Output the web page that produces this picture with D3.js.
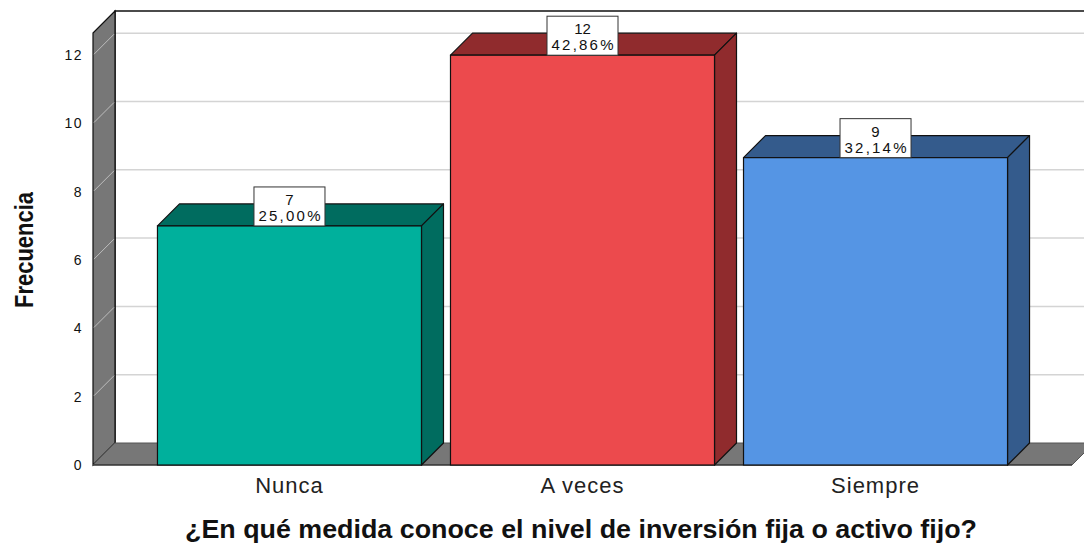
<!DOCTYPE html>
<html>
<head>
<meta charset="utf-8">
<script src="https://cdn.jsdelivr.net/npm/d3@7"></script>
<style>
  body { margin: 0; background: #fff; }
  svg { display: block; font-family: "Liberation Sans", Arial, sans-serif; }
</style>
</head>
<body>
<script>
// Data
var categories = ["Nunca", "A veces", "Siempre"];
var counts = [7, 12, 9];
var percents = ["25,00%", "42,86%", "32,14%"];
var yTicks = [0, 2, 4, 6, 8, 10, 12];
var frontColors = ["#00b09c", "#ec4a4d", "#5595e4"];
var darkColors = ["#006c5f", "#902b2d", "#345b8c"];

var W = 1084, H = 545;
var depth = 22; // 3D offset (dx = +depth, dy = -depth)
var left = 93, right = 1072, bottom = 465;

var svg = d3.select("body")
    .append("svg")
    .attr("width", W)
    .attr("height", H);

// Scales (front plane)
var y = d3.scaleLinear()
    .domain([0, 12.65])
    .range([bottom, 33]);

var x = d3.scaleBand()
    .domain(categories)
    .range([left, right])
    .paddingInner(0.099)
    .paddingOuter(0.22);

var plotTop = y(12.65);

// Back wall
svg.append("rect")
    .attr("x", left + depth)
    .attr("y", plotTop - depth)
    .attr("width", W)
    .attr("height", bottom - plotTop)
    .attr("fill", "#fff");

// Back wall gridlines
svg.selectAll(".grid")
    .data(yTicks.filter(function (d) { return d > 0; }))
    .enter().append("line")
    .attr("class", "grid")
    .attr("x1", left + depth)
    .attr("x2", W)
    .attr("y1", function (d) { return y(d) - depth; })
    .attr("y2", function (d) { return y(d) - depth; })
    .attr("stroke", "#d4d4d4")
    .attr("stroke-width", 1.5);

// Back wall frame (top + left edges)
svg.append("path")
    .attr("d", "M" + W + "," + (plotTop - depth) + "H" + (left + depth) + "V" + (bottom - depth))
    .attr("fill", "none")
    .attr("stroke", "#111")
    .attr("stroke-width", 1.5);

// Left wall
svg.append("path")
    .attr("d", "M" + left + "," + plotTop +
        "L" + (left + depth) + "," + (plotTop - depth) +
        "V" + (bottom - depth) +
        "L" + left + "," + bottom + "Z")
    .attr("fill", "#777")
    .attr("stroke", "#111")
    .attr("stroke-width", 1.2);

// Left wall gridlines
svg.selectAll(".wgrid")
    .data(yTicks.filter(function (d) { return d > 0; }))
    .enter().append("line")
    .attr("class", "wgrid")
    .attr("x1", left + 1)
    .attr("x2", left + depth - 1)
    .attr("y1", function (d) { return y(d) - 1; })
    .attr("y2", function (d) { return y(d) - depth + 1; })
    .attr("stroke", "#bdbdbd")
    .attr("stroke-width", 1);

// Floor
svg.append("path")
    .attr("d", "M" + left + "," + bottom +
        "L" + (left + depth) + "," + (bottom - depth) +
        "H" + (right + depth) +
        "L" + right + "," + bottom + "Z")
    .attr("fill", "#777")
    .attr("stroke", "#555")
    .attr("stroke-width", 1);

svg.append("line")
    .attr("x1", left).attr("x2", right)
    .attr("y1", bottom).attr("y2", bottom)
    .attr("stroke", "#222").attr("stroke-width", 1.2);

// Bars
var bars = svg.selectAll(".bar")
    .data(categories)
    .enter().append("g")
    .attr("class", "bar");

// top face
bars.append("path")
    .attr("d", function (d, i) {
        var x0 = x(d), x1 = x(d) + x.bandwidth(), yt = y(counts[i]);
        return "M" + x0 + "," + yt + "L" + (x0 + depth) + "," + (yt - depth) +
            "H" + (x1 + depth) + "L" + x1 + "," + yt + "Z";
    })
    .attr("fill", function (d, i) { return darkColors[i]; })
    .attr("stroke", "#111")
    .attr("stroke-width", 1.2)
    .attr("stroke-linejoin", "round");

// side face
bars.append("path")
    .attr("d", function (d, i) {
        var x1 = x(d) + x.bandwidth(), yt = y(counts[i]);
        return "M" + x1 + "," + yt + "L" + (x1 + depth) + "," + (yt - depth) +
            "V" + (bottom - depth) + "L" + x1 + "," + bottom + "Z";
    })
    .attr("fill", function (d, i) { return darkColors[i]; })
    .attr("stroke", "#111")
    .attr("stroke-width", 1.2)
    .attr("stroke-linejoin", "round");

// front face
bars.append("rect")
    .attr("x", function (d) { return x(d); })
    .attr("y", function (d, i) { return y(counts[i]); })
    .attr("width", x.bandwidth())
    .attr("height", function (d, i) { return bottom - y(counts[i]); })
    .attr("fill", function (d, i) { return frontColors[i]; })
    .attr("stroke", "#111")
    .attr("stroke-width", 1.2);

// Value labels
var boxW = 71, boxH = 39;
var labels = svg.selectAll(".vlabel")
    .data(categories)
    .enter().append("g")
    .attr("class", "vlabel")
    .attr("transform", function (d, i) {
        return "translate(" + (x(d) + x.bandwidth() / 2) + "," + (y(counts[i]) - boxH) + ")";
    });

labels.append("rect")
    .attr("x", -boxW / 2)
    .attr("y", 0)
    .attr("width", boxW)
    .attr("height", boxH)
    .attr("fill", "#fff")
    .attr("stroke", "#333")
    .attr("stroke-width", 1);

labels.append("text")
    .attr("text-anchor", "middle")
    .attr("y", 18)
    .style("font-size", "15px")
    .attr("fill", "#111")
    .text(function (d, i) { return counts[i]; });

labels.append("text")
    .attr("text-anchor", "middle")
    .attr("y", 34)
    .attr("textLength", 62)
    .attr("lengthAdjust", "spacing")
    .style("font-size", "15px")
    .attr("fill", "#111")
    .text(function (d, i) { return percents[i]; });

// Y axis
var yAxis = svg.append("g")
    .attr("transform", "translate(" + (left - 4) + ",0)")
    .call(d3.axisLeft(y).tickValues(yTicks).tickSize(0).tickPadding(6));
yAxis.select(".domain").remove();
yAxis.selectAll("text")
    .style("font-size", "14px")
    .style("font-family", "'Liberation Sans', Arial, sans-serif")
    .style("letter-spacing", "1.5px")
    .attr("fill", "#111");

// X axis
var xAxis = svg.append("g")
    .attr("transform", "translate(0," + bottom + ")")
    .call(d3.axisBottom(x).tickSize(0).tickPadding(12));
xAxis.select(".domain").remove();
xAxis.selectAll("text")
    .style("font-size", "22px")
    .style("font-family", "'Liberation Sans', Arial, sans-serif")
    .style("letter-spacing", "1px")
    .attr("fill", "#222");

// Axis titles
svg.append("text")
    .attr("transform", "translate(33,250) rotate(-90)")
    .attr("text-anchor", "middle")
    .attr("textLength", 116)
    .attr("lengthAdjust", "spacingAndGlyphs")
    .style("font-weight", "bold")
    .style("font-size", "25px")
    .attr("fill", "#111")
    .text("Frecuencia");

svg.append("text")
    .attr("x", 581)
    .attr("y", 538)
    .attr("text-anchor", "middle")
    .attr("textLength", 792)
    .attr("lengthAdjust", "spacingAndGlyphs")
    .style("font-weight", "bold")
    .style("font-size", "25px")
    .attr("fill", "#111")
    .text("¿En qué medida conoce el nivel de inversión fija o activo fijo?");
</script>
</body>
</html>
